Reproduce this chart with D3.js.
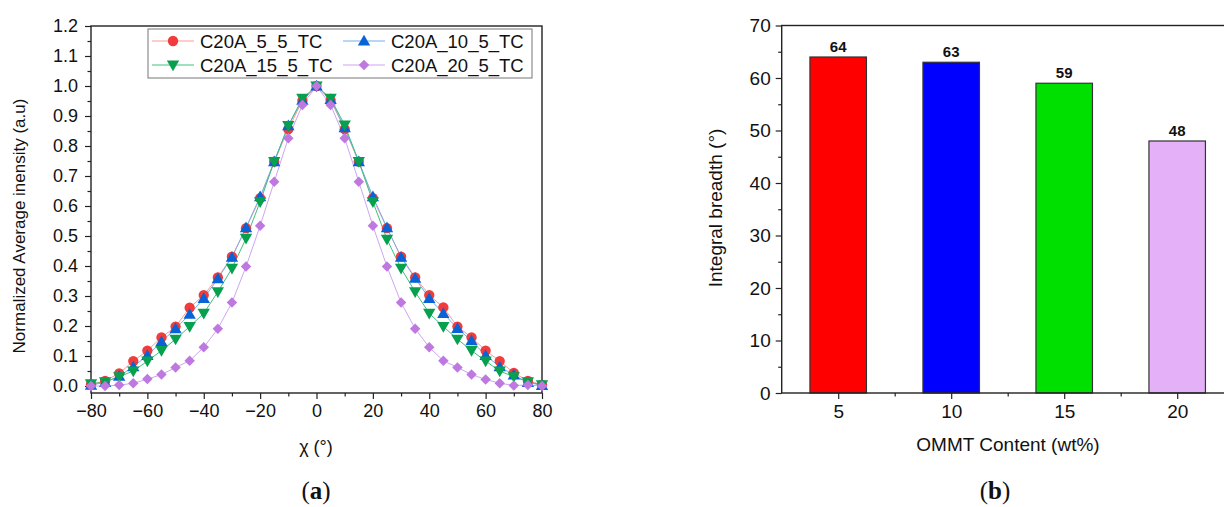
<!DOCTYPE html>
<html>
<head>
<meta charset="utf-8">
<script src="https://cdn.jsdelivr.net/npm/d3@7/dist/d3.min.js"></script>
<style>
  html, body { margin: 0; padding: 0; background: #fff; }
  svg { display: block; }
  text { font-family: "Liberation Sans", Arial, sans-serif; fill: #111; }
</style>
</head>
<body>
<svg id="fig" width="1224" height="507"></svg>
<script>
// ---- Panel (a): azimuthal intensity profiles ----
const chi = [-80,-75,-70,-65,-60,-55,-50,-45,-40,-35,-30,-25,-20,-15,-10,-5,0,
             5,10,15,20,25,30,35,40,45,50,55,60,65,70,75,80];
const c5  = [0.005,0.017,0.042,0.083,0.118,0.162,0.198,0.261,0.303,0.362,0.431,0.526,0.626,0.748,0.856,0.951,1.0,
             0.953,0.856,0.748,0.626,0.526,0.431,0.362,0.303,0.262,0.198,0.162,0.118,0.083,0.044,0.017,0.004];
const c10 = [0.003,0.012,0.033,0.064,0.102,0.148,0.191,0.239,0.292,0.358,0.429,0.528,0.631,0.748,0.868,0.953,1.0,
             0.955,0.861,0.748,0.631,0.528,0.429,0.359,0.292,0.242,0.192,0.151,0.102,0.064,0.037,0.012,0.002];
const c15 = [0.007,0.014,0.031,0.050,0.083,0.118,0.156,0.198,0.242,0.314,0.392,0.492,0.614,0.748,0.868,0.959,1.0,
             0.959,0.870,0.748,0.614,0.489,0.392,0.314,0.242,0.198,0.156,0.118,0.083,0.050,0.031,0.014,0.004];
const c20 = [0.000,0.000,0.003,0.009,0.023,0.038,0.062,0.084,0.129,0.191,0.278,0.398,0.534,0.681,0.826,0.937,1.0,
             0.937,0.826,0.681,0.534,0.398,0.278,0.191,0.129,0.084,0.062,0.038,0.022,0.009,0.002,0.003,0.000];
const seriesNames = ["C20A_5_5_TC","C20A_10_5_TC","C20A_15_5_TC","C20A_20_5_TC"];
const xTicksA = [-80,-60,-40,-20,0,20,40,60,80];
const yTicksA = [0,0.1,0.2,0.3,0.4,0.5,0.6,0.7,0.8,0.9,1.0,1.1,1.2];

// ---- Panel (b): integral breadth ----
const contents = [5,10,15,20];
const breadth = [64,63,59,48];
const yTicksB = [0,10,20,30,40,50,60,70];

const svg = d3.select("#fig");
svg.append("rect").attr("width",1224).attr("height",507).attr("fill","#fff");

// ================= Panel (a) =================
const xA = d3.scaleLinear().domain([-80,80]).range([91,542]);
const yA = d3.scaleLinear().domain([0,1.2]).range([386,26]);
const axisYA = 393;
const gA = svg.append("g");

const styles = [
  {line:"#ff9a9a", fill:"#f23b3b", sym:d3.symbolCircle, size:84, rot:0},
  {line:"#6fb2ee", fill:"#0a63d6", sym:d3.symbolTriangle, size:66, rot:0},
  {line:"#3fbf7f", fill:"#07a04e", sym:d3.symbolTriangle, size:66, rot:180},
  {line:"#cda6f2", fill:"#bf78e0", sym:d3.symbolSquare, size:55, rot:45}
];
const allSeries = [c5,c10,c15,c20];

// minor ticks
gA.append("g").attr("transform",`translate(0,${axisYA})`)
  .call(d3.axisBottom(xA).tickValues(d3.range(-70,80,20)).tickSize(3.5).tickFormat(""))
  .call(g=>g.select(".domain").remove());
gA.append("g").attr("transform",`translate(91,0)`)
  .call(d3.axisLeft(yA).tickValues(d3.range(0.05,1.2,0.1)).tickSize(3.5).tickFormat(""))
  .call(g=>g.select(".domain").remove());
// major ticks
gA.append("g").attr("class","ax").attr("transform",`translate(0,${axisYA})`)
  .call(d3.axisBottom(xA).tickValues(xTicksA).tickSize(6).tickPadding(5))
  .call(g=>g.select(".domain").remove());
gA.append("g").attr("class","ax").attr("transform",`translate(91,0)`)
  .call(d3.axisLeft(yA).tickValues(yTicksA).tickSize(6).tickPadding(7).tickFormat(d3.format(".1f")))
  .call(g=>g.select(".domain").remove());
gA.selectAll(".tick line").attr("stroke","#222").attr("stroke-width",1.2);
gA.selectAll(".ax text").attr("font-size",18).attr("font-family","Liberation Sans, Arial").attr("fill","#111");

// frame
gA.append("rect").attr("x",91).attr("y",26).attr("width",542-91).attr("height",axisYA-26)
  .attr("fill","none").attr("stroke","#222").attr("stroke-width",1.4);

// curves
allSeries.forEach((vals,i)=>{
  const st = styles[i];
  const pts = chi.map((c,j)=>[c,vals[j]]);
  gA.append("path").datum(pts)
    .attr("fill","none").attr("stroke",st.line).attr("stroke-width",1)
    .attr("d",d3.line().x(d=>xA(d[0])).y(d=>yA(d[1])));
});
allSeries.forEach((vals,i)=>{
  const st = styles[i];
  const sym = d3.symbol().type(st.sym).size(st.size);
  gA.append("g").selectAll("path").data(chi.map((c,j)=>[c,vals[j]])).join("path")
    .attr("d",sym)
    .attr("transform",d=>`translate(${xA(d[0])},${yA(d[1]) + (i===1?1:(i===2?-1:0))}) rotate(${st.rot})`)
    .attr("fill",st.fill);
});

// legend
const leg = gA.append("g");
leg.append("rect").attr("x",148).attr("y",29).attr("width",384).attr("height",49)
  .attr("fill","#fff").attr("stroke","#777").attr("stroke-width",1);
const legPos = [[152,41],[343,41],[152,65],[343,65]];
seriesNames.forEach((n,i)=>{
  const [lx,ly] = legPos[i];
  const st = styles[i];
  leg.append("line").attr("x1",lx).attr("x2",lx+42).attr("y1",ly).attr("y2",ly)
    .attr("stroke",st.line).attr("stroke-width",1.2);
  leg.append("path").attr("d",d3.symbol().type(st.sym).size(st.size)())
    .attr("transform",`translate(${lx+21},${ly + (i===1?1:(i===2?-1:0))}) rotate(${st.rot})`)
    .attr("fill",st.fill);
  leg.append("text").attr("x",lx+48).attr("y",ly+6.5).attr("font-size",18.5).text(n);
});

// axis titles
gA.append("text").attr("transform","translate(25,226) rotate(-90)").attr("text-anchor","middle")
  .attr("font-size",17).text("Normalized Average inensity (a.u)");
gA.append("text").attr("x",316).attr("y",453).attr("text-anchor","middle")
  .attr("font-size",18).text("χ (°)");
const la = gA.append("text").attr("x",316).attr("y",499).attr("text-anchor","middle")
  .attr("font-size",25).style("font-family","'Liberation Serif', 'Times New Roman', serif");
la.append("tspan").text("(");
la.append("tspan").attr("font-weight","bold").text("a");
la.append("tspan").text(")");

// ================= Panel (b) =================
const xB = d3.scaleLinear().domain([2.5,22.5]).range([781.7,1233.7]);
const yB = d3.scaleLinear().domain([0,70]).range([393,25.5]);
const gB = svg.append("g");
const barColors = ["#ff0000","#0000ff","#00e000","#e4b0f8"];

gB.append("g").selectAll("rect").data(contents).join("rect")
  .attr("x",d=>xB(d-1.25)).attr("width",d=>xB(d+1.25)-xB(d-1.25))
  .attr("y",(d,i)=>yB(breadth[i])).attr("height",(d,i)=>yB(0)-yB(breadth[i]))
  .attr("fill",(d,i)=>barColors[i]).attr("stroke","#333").attr("stroke-width",1.2);

gB.append("g").selectAll("text").data(contents).join("text")
  .attr("x",d=>xB(d)).attr("y",(d,i)=>yB(breadth[i])-5)
  .attr("text-anchor","middle").attr("font-size",15).attr("font-weight","bold")
  .text((d,i)=>breadth[i]);

// ticks
gB.append("g").attr("transform","translate(0,393)")
  .call(d3.axisBottom(xB).tickValues([7.5,12.5,17.5]).tickSize(3.5).tickFormat(""))
  .call(g=>g.select(".domain").remove());
gB.append("g").attr("transform","translate(781.7,0)")
  .call(d3.axisLeft(yB).tickValues(d3.range(5,70,10)).tickSize(3.5).tickFormat(""))
  .call(g=>g.select(".domain").remove());
gB.append("g").attr("class","ax").attr("transform","translate(0,393)")
  .call(d3.axisBottom(xB).tickValues(contents).tickSize(6).tickPadding(6))
  .call(g=>g.select(".domain").remove());
gB.append("g").attr("class","ax").attr("transform","translate(781.7,0)")
  .call(d3.axisLeft(yB).tickValues(yTicksB).tickSize(6).tickPadding(5))
  .call(g=>g.select(".domain").remove());
gB.selectAll(".tick line").attr("stroke","#222").attr("stroke-width",1.2);
gB.selectAll(".ax text").attr("font-size",19).attr("font-family","Liberation Sans, Arial").attr("fill","#111");

gB.append("rect").attr("x",781.7).attr("y",25.5).attr("width",1233.7-781.7).attr("height",393-25.5)
  .attr("fill","none").attr("stroke","#222").attr("stroke-width",1.4);

gB.append("text").attr("transform","translate(722,208) rotate(-90)").attr("text-anchor","middle")
  .attr("font-size",19).text("Integral breadth (°)");
gB.append("text").attr("x",1008).attr("y",451).attr("text-anchor","middle")
  .attr("font-size",19).text("OMMT Content (wt%)");
const lb = gB.append("text").attr("x",995).attr("y",499).attr("text-anchor","middle")
  .attr("font-size",25).style("font-family","'Liberation Serif', 'Times New Roman', serif");
lb.append("tspan").text("(");
lb.append("tspan").attr("font-weight","bold").text("b");
lb.append("tspan").text(")");
</script>
</body>
</html>
